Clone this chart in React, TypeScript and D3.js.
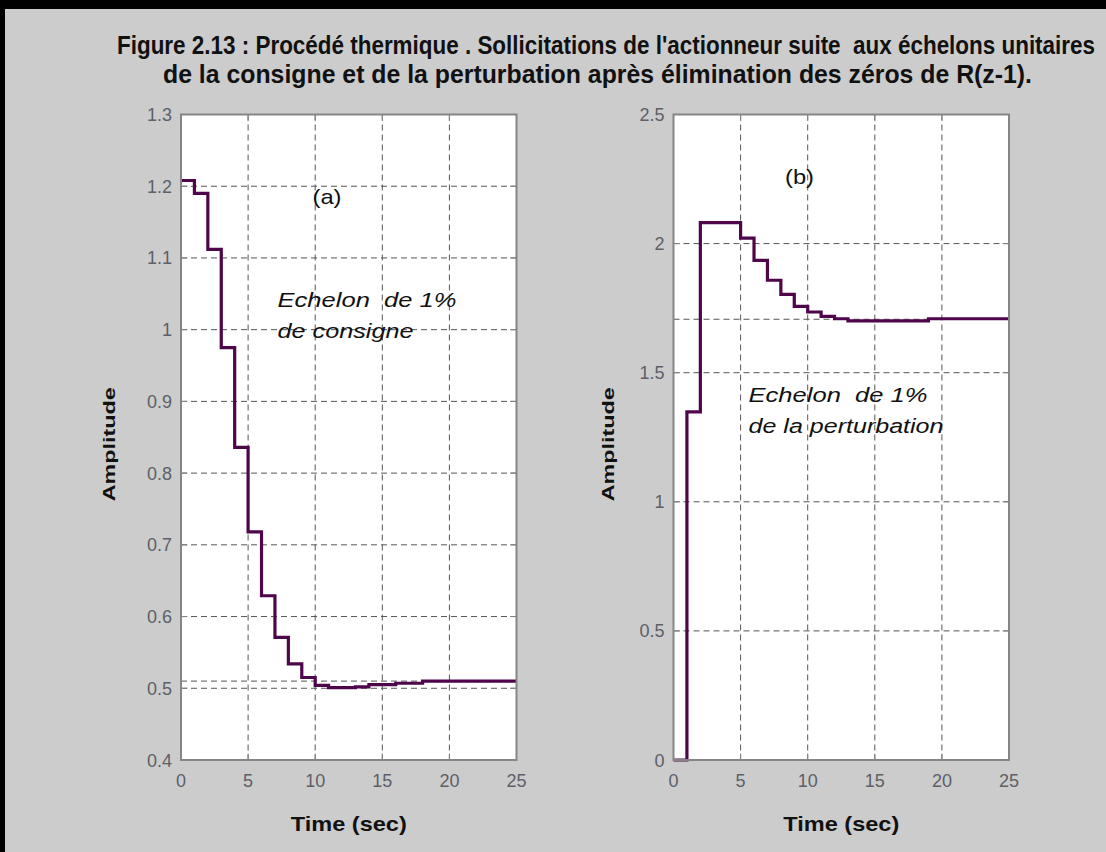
import React from 'react';
import * as d3 from 'd3';

// ---------- data ----------
const timeA = [0, 1, 2, 3, 4, 5, 6, 7, 8, 9, 10, 11, 12, 13, 14, 15, 16, 17, 18, 19, 20, 21, 22, 23, 24, 25];
const ampA = [1.208, 1.19, 1.112, 0.975, 0.836, 0.718, 0.629, 0.571, 0.534, 0.515, 0.504, 0.501, 0.501, 0.502, 0.505, 0.505, 0.507, 0.507, 0.51, 0.51, 0.51, 0.51, 0.51, 0.51, 0.51, 0.51];
const timeB = [0, 1, 2, 3, 4, 5, 6, 7, 8, 9, 10, 11, 12, 13, 14, 15, 16, 17, 18, 19, 20, 21, 22, 23, 24, 25];
const ampB = [0, 1.348, 2.081, 2.081, 2.081, 2.021, 1.935, 1.858, 1.803, 1.757, 1.735, 1.718, 1.709, 1.701, 1.701, 1.701, 1.701, 1.701, 1.701, 1.709, 1.709, 1.709, 1.709, 1.709, 1.709, 1.709];
const steadyA = 0.51;
const steadyB = 1.707;
const xTicks = [0, 5, 10, 15, 20, 25];
const yTicksA = [0.4, 0.5, 0.6, 0.7, 0.8, 0.9, 1, 1.1, 1.2, 1.3];
const yTicksB = [0, 0.5, 1, 1.5, 2, 2.5];
const titleLines = [
  "Figure 2.13 : Procédé thermique . Sollicitations de l'actionneur suite  aux échelons unitaires",
  "de la consigne et de la perturbation après élimination des zéros de R(z-1).",
];
const panelLabels = ['(a)', '(b)'];
const notesA = ['Echelon  de 1%', 'de consigne'];
const notesB = ['Echelon  de 1%', 'de la perturbation'];
const xLabel = 'Time (sec)';
const yLabel = 'Amplitude';

const FONT = '"Liberation Sans", Arial, Helvetica, sans-serif';
const BG = '#cccccc';
const AXIS = '#858585';
const GRID = '#555555';
const LINE = '#4f0549';
const TICKTXT = '#5c6068';
const PRE = { whiteSpace: 'pre' as const };

interface PanelProps {
  left: number; right: number; top: number; bottom: number;
  yDomain: [number, number]; yTicks: number[];
  time: number[]; amp: number[]; steady: number;
  label: string; labelPos: [number, number];
  notes: string[]; notesPos: [number, number]; notesW: number[];
  yLabelX: number;
}

function Panel(p: PanelProps) {
  const x = d3.scaleLinear().domain([0, 25]).range([p.left, p.right]);
  const y = d3.scaleLinear().domain(p.yDomain).range([p.bottom, p.top]);
  const pts = p.time.map((t, i) => [t, p.amp[i]] as [number, number]);
  const path = d3.line<[number, number]>().x(d => x(d[0])).y(d => y(d[1])).curve(d3.curveStepAfter)(pts) || '';
  const fmt = (v: number) => String(+v.toFixed(2));
  const tl = 6.5;
  const cy = (p.top + p.bottom) / 2;
  return (
    <g>
      <rect x={p.left} y={p.top} width={p.right - p.left} height={p.bottom - p.top} fill="#ffffff" />
      {xTicks.slice(1, -1).map(t => (
        <line key={'gx' + t} x1={x(t)} x2={x(t)} y1={p.top} y2={p.bottom} stroke={GRID} strokeWidth={1} strokeDasharray="6,4" />
      ))}
      {p.yTicks.slice(1, -1).map(v => (
        <line key={'gy' + v} x1={p.left} x2={p.right} y1={y(v)} y2={y(v)} stroke={GRID} strokeWidth={1} strokeDasharray="6,4" />
      ))}
      <line x1={p.left} x2={p.right} y1={y(p.steady)} y2={y(p.steady)} stroke={GRID} strokeWidth={1} strokeDasharray="6,4" />
      {xTicks.map(t => (
        <g key={'tx' + t}>
          <line x1={x(t)} x2={x(t)} y1={p.bottom} y2={p.bottom - tl} stroke={AXIS} strokeWidth={1} />
          <line x1={x(t)} x2={x(t)} y1={p.top} y2={p.top + tl} stroke={AXIS} strokeWidth={1} />
          <text x={x(t)} y={p.bottom + 27} textAnchor="middle" fontFamily={FONT} fontSize={18} fill={TICKTXT}>{fmt(t)}</text>
        </g>
      ))}
      {p.yTicks.map(v => (
        <g key={'ty' + v}>
          <line x1={p.left} x2={p.left + tl} y1={y(v)} y2={y(v)} stroke={AXIS} strokeWidth={1} />
          <line x1={p.right} x2={p.right - tl} y1={y(v)} y2={y(v)} stroke={AXIS} strokeWidth={1} />
          <text x={p.left - 9} y={y(v) + 6.5} textAnchor="end" fontFamily={FONT} fontSize={18} fill={TICKTXT}>{fmt(v)}</text>
        </g>
      ))}
      <path d={path} fill="none" stroke={LINE} strokeWidth={3.2} strokeLinejoin="miter" />
      <rect x={p.left} y={p.top} width={p.right - p.left} height={p.bottom - p.top} fill="none" stroke={AXIS} strokeWidth={2} />
      <text x={p.labelPos[0]} y={p.labelPos[1]} fontFamily={FONT} fontSize={21} fill="#111" textLength={29} lengthAdjust="spacingAndGlyphs">{p.label}</text>
      {p.notes.map((n, i) => (
        <text key={'n' + i} x={p.notesPos[0]} y={p.notesPos[1] + i * 31} fontFamily={FONT} fontSize={20} fontStyle="italic" fill="#111"
          textLength={p.notesW[i]} lengthAdjust="spacingAndGlyphs" xmlSpace="preserve" style={PRE}>{n}</text>
      ))}
      <text x={(p.left + p.right) / 2} y={p.bottom + 71} textAnchor="middle" fontFamily={FONT} fontSize={21} fontWeight="bold" fill="#111" textLength={116} lengthAdjust="spacingAndGlyphs">{xLabel}</text>
      <text transform={`translate(${p.yLabelX},${cy + 7}) rotate(-90)`} textAnchor="middle" fontFamily={FONT} fontSize={17} fontWeight="bold" fill="#111" textLength={114} lengthAdjust="spacingAndGlyphs">{yLabel}</text>
    </g>
  );
}

export default function App() {
  const W = 1106, H = 852;
  const titleX = [117, 163];
  const titleW = [978, 869];
  return (
    <div style={{ position: 'absolute', left: 0, top: 0 }}>
      <svg width={W} height={H} viewBox={`0 0 ${W} ${H}`} style={{ display: 'block' }}>
        <rect x={0} y={0} width={W} height={H} fill={BG} />
        <rect x={0} y={0} width={W} height={9} fill="#000" />
        <rect x={0} y={0} width={5} height={H} fill="#000" />
        {titleLines.map((t, i) => (
          <g key={i} transform={`translate(${titleX[i] + titleW[i] / 2},${54 + i * 29}) scale(1,1.25)`}>
            <text x={0} y={0} textAnchor="middle" fontFamily={FONT} fontSize={20} fontWeight="bold" fill="#111"
              textLength={titleW[i]} lengthAdjust="spacingAndGlyphs" xmlSpace="preserve" style={PRE}>{t}</text>
          </g>
        ))}
        <Panel left={181} right={516.5} top={114.5} bottom={760} yDomain={[0.4, 1.3]} yTicks={yTicksA}
          time={timeA} amp={ampA} steady={steadyA} label={panelLabels[0]} labelPos={[312.5, 203.5]}
          notes={notesA} notesPos={[277.5, 306.5]} notesW={[179, 136]} yLabelX={115} />
        <Panel left={673.5} right={1009} top={114.5} bottom={760} yDomain={[0, 2.5]} yTicks={yTicksB}
          time={timeB} amp={ampB} steady={steadyB} label={panelLabels[1]} labelPos={[785, 183.5]}
          notes={notesB} notesPos={[748.5, 402]} notesW={[179, 195]} yLabelX={614} />
      </svg>
    </div>
  );
}
